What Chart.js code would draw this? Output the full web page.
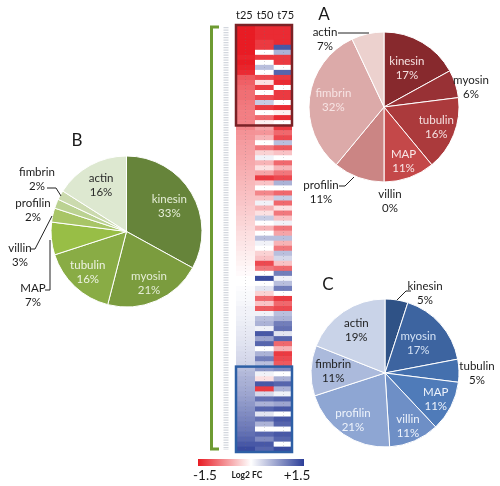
<!DOCTYPE html>
<html><head><meta charset="utf-8">
<script src="https://cdn.jsdelivr.net/npm/chart.js@4.4.0/dist/chart.umd.min.js"></script>
<style>
html,body{margin:0;padding:0;background:#fff;}
#wrap{position:relative;width:500px;height:486px;overflow:hidden;background:#fff;}
#wrap canvas{position:absolute;left:0;top:0;}
</style></head><body>
<div id="wrap">
<canvas id="heat" width="500" height="486"></canvas>
<canvas id="pieA" width="500" height="486"></canvas>
<canvas id="pieB" width="500" height="486"></canvas>
<canvas id="pieC" width="500" height="486"></canvas>
</div>
<script>
// ---------------- DATA ----------------
const categories = ['kinesin','myosin','tubulin','MAP','villin','profilin','fimbrin','actin'];
const shareA = [17, 6, 16, 11, 0, 11, 32, 7];
const shareB = [33, 21, 16, 7, 3, 2, 2, 16];
const shareC = [5, 17, 5, 11, 11, 21, 11, 19];
const panelLetters = ['A', 'B', 'C'];

const timePoints = ['t25', 't50', 't75'];
const t25 = [-1.5,-1.5,-1.5,-1.5,-1.5,-1.5,-1.45,-1.5,-1.45,-1.4,
  -1.1,-1.05,-1.0,-0.95,-0.95,-0.9,-0.88,-0.85,-0.85,-0.82,-0.8,
  -0.72,-0.7,-0.66,-0.64,-0.62,-0.6,-0.57,-0.55,-0.52,-0.5,-0.47,-0.45,-0.42,-0.4,-0.38,-0.35,-0.33,-0.3,-0.28,-0.25,-0.22,-0.2,-0.17,-0.15,-0.12,-0.1,
  -0.08,-0.05,-0.03,0,0,0.02,0.04,0.05,0.07,0.1,0.1,0.12,0.14,0.16,0.18,0.2,0.22,0.25,0.28,0.3,0.33,
  0.5,0.55,0.6,0.62,0.66,0.7,0.75,0.8,0.85,0.9,0.95,1.0,1.05,1.12,1.2,1.3,1.4];
const t50 = [-1.4,-1.4,-1.4,-1.3,-1.3,0,-1.3,0,0.5,0,
  -1.2,-0.2,-1.3,0,-1.2,0.4,-1.3,0,-1.0,-0.1,-0.6,
  -0.7,-0.5,0,-0.9,-0.3,0.1,-0.5,-0.2,-0.6,-1.3,-0.4,0,-0.8,-0.4,0.1,-0.5,-0.2,0.4,0,-0.5,0,0.5,
  0.1,0,-0.3,-0.4,-1.2,-0.9,0,1.4,0,0.2,-0.3,-1.0,-0.4,-1.1,0.1,0.5,0.6,0.1,1.3,0.7,1.2,0,
  0.6,1.0,0.5,0.8,0.1,-0.2,1.3,-1.3,0.3,1.1,0.6,1.2,0.2,1.1,0.6,0,1.2,0.9,1.3,1.2];
const t75 = [-1.4,-1.4,-1.4,-1.4,1.3,0.6,-1.3,-1.3,0,1.2,
  -1.3,-1.4,0,-1.3,-1.3,0,-1.4,-0.1,-1.4,0,-1.3,
  -1.0,-1.2,0.5,-1.1,-0.4,0,-1.0,-0.5,-0.9,-1.2,0.6,0,-1.0,0.4,-1.0,-0.2,-0.9,-0.4,0.1,-0.9,-0.6,0.5,
  -0.5,-0.9,0.5,0.3,-0.4,-1.0,1.0,0.1,0.5,1.0,0,-1.3,-1.0,-1.2,0.5,0.6,1.0,1.1,0.2,1.2,-1.0,-0.5,
  -1.3,-1.2,-1.1,0.9,0,0.6,1.2,0.6,0.1,1.2,0.7,1.3,0,1.3,1.2,0,1.3,1.2,0,1.4];
const colorbarTicks = [-1.5, 1.5];
const colorbarTitle = 'Log2 FC';

// ---------------- STYLE ----------------
const FONT = 'Lato, "Open Sans", sans-serif';
const colorsA = ['#87292d','#983135','#ab3a3c','#c44849','#c26a6a','#cb8584','#dcaaa9','#ecd1ce'];
const colorsB = ['#66843a','#7b9c3e','#89ac45','#98be46','#a8c566','#bbd292','#cbdaae','#dde8d0'];
const colorsC = ['#2f5286','#3d64a0','#4470ae','#4f7bb9','#6e8fc6','#8ea6d3','#abbadc','#c9d3e8'];

function colorFor(v){
  const t = Math.max(-1, Math.min(1, v / 1.5));
  const end = t < 0 ? [232, 28, 36] : [44, 62, 152];
  const a = Math.abs(t);
  const c = end.map(e => Math.round(255 + (e - 255) * a));
  return 'rgb(' + c[0] + ',' + c[1] + ',' + c[2] + ')';
}

// ---------------- PIE LABEL PLUGIN ----------------
const pieLabels = {
  id: 'pieLabels',
  afterDatasetsDraw(chart, args, opts) {
    const ctx = chart.ctx;
    const meta = chart.getDatasetMeta(0);
    const ds = chart.data.datasets[0];
    ctx.save();
    ctx.textAlign = 'center';
    ctx.textBaseline = 'middle';
    chart.data.labels.forEach((lab, i) => {
      let x, y;
      const ins = opts.inside[i];
      if (ins) {
        const arc = meta.data[i];
        const mid = (arc.startAngle + arc.endAngle) / 2;
        const r = arc.outerRadius * ins.f;
        x = arc.x + Math.cos(mid) * r;
        y = arc.y + Math.sin(mid) * r;
        ctx.fillStyle = ins.color;
      } else {
        const o = opts.outside[i];
        if (!o) return;
        x = o.x; y = o.y;
        ctx.fillStyle = '#1c1c1c';
        if (o.line) {
          ctx.strokeStyle = '#222';
          ctx.lineWidth = 1;
          ctx.beginPath();
          o.line.forEach((p, k) => k ? ctx.lineTo(p[0], p[1]) : ctx.moveTo(p[0], p[1]));
          ctx.stroke();
        }
      }
      ctx.font = '11.5px ' + FONT;
      ctx.fillText(lab, x, y - 7);
      ctx.fillText(ds.data[i] + '%', x, y + 7);
    });
    ctx.font = '17px ' + FONT;
    ctx.fillStyle = '#1a1a1a';
    ctx.fillText(opts.letter.text, opts.letter.x, opts.letter.y);
    ctx.restore();
  }
};

function makePie(id, values, colors, padding, labelOpts) {
  return new Chart(document.getElementById(id), {
    type: 'pie',
    data: { labels: categories, datasets: [{ data: values, backgroundColor: colors, borderColor: '#ffffff', borderWidth: 1 }] },
    options: {
      responsive: false, animation: false, events: [],
      layout: { padding: padding },
      plugins: { legend: { display: false }, tooltip: { enabled: false }, pieLabels: labelOpts }
    },
    plugins: [pieLabels]
  });
}

makePie('pieA', shareA, colorsA, {left: 308.5, right: 40.5, top: 31.5, bottom: 303.5}, {
  letter: {text: panelLetters[0], x: 324, y: 15},
  inside: {
    0: {f: 0.6, color: '#f4e0e0'}, 2: {f: 0.75, color: '#f4e0e0'},
    3: {f: 0.77, color: '#f8e8e8'}, 6: {f: 0.68, color: '#f7e4e4'}
  },
  outside: {
    1: {x: 471, y: 87}, 4: {x: 390, y: 201},
    5: {x: 321, y: 192, line: [[339,186],[345,186],[354,177]]},
    7: {x: 325, y: 39, line: [[338,33],[369,33]]}
  }
});

makePie('pieB', shareB, colorsB, {left: 50.5, right: 297.5, top: 155.5, bottom: 178.5}, {
  letter: {text: panelLetters[1], x: 77, y: 141},
  inside: {
    0: {f: 0.66, color: '#e6eed8'}, 1: {f: 0.75, color: '#e6eed8'},
    2: {f: 0.75, color: '#eef3e4'}, 7: {f: 0.7, color: '#2a2a2a'}
  },
  outside: {
    6: {x: 37, y: 179.5, line: [[47,188],[56,188],[61,196]]},
    5: {x: 33, y: 210.5},
    4: {x: 20, y: 255.5, line: [[31,249],[35,249],[52,216]]},
    3: {x: 33, y: 295.5, line: [[45,290],[50,290],[50,240]]}
  }
});

makePie('pieC', shareC, colorsC, {left: 310.5, right: 40.5, top: 298.5, bottom: 38.5}, {
  letter: {text: panelLetters[2], x: 328, y: 285},
  inside: {
    1: {f: 0.6, color: '#d3e1f4'}, 3: {f: 0.77, color: '#eef3fb'},
    4: {f: 0.78, color: '#eef3fb'}, 5: {f: 0.77, color: '#eef3fb'},
    6: {f: 0.7, color: '#1e1e1e'}, 7: {f: 0.69, color: '#1e1e1e'}
  },
  outside: {
    0: {x: 425, y: 293.5, line: [[397,300],[406,291],[411,291]]},
    2: {x: 477, y: 373}
  }
});

// ---------------- HEATMAP ----------------
const heatValues = [t25, t50, t75];
const rowIds = t25.map((_, i) => i);

const heatDecor = {
  id: 'heatDecor',
  afterDatasetsDraw(chart, args, opts) {
    const ctx = chart.ctx;
    const xs = chart.scales.x, ys = chart.scales.y;
    const area = chart.chartArea;
    const half = (ys.getPixelForValue(1) - ys.getPixelForValue(0)) / 2;
    ctx.save();
    // faint guide lines at column centres
    ctx.strokeStyle = 'rgba(110,110,120,0.28)';
    ctx.lineWidth = 1;
    ctx.setLineDash([1, 2]);
    timePoints.forEach((tp, j) => {
      const x = Math.round(xs.getPixelForValue(j + 0.5)) + 0.5;
      ctx.beginPath(); ctx.moveTo(x, area.top); ctx.lineTo(x, area.bottom); ctx.stroke();
    });
    // gene label strip
    ctx.strokeStyle = 'rgba(175,182,195,0.55)';
    ctx.lineWidth = 5;
    ctx.setLineDash([1.2, 1.3]);
    ctx.beginPath(); ctx.moveTo(226, area.top + 2); ctx.lineTo(226, area.bottom - 2); ctx.stroke();
    ctx.setLineDash([]);
    // boxes
    opts.boxes.forEach(b => {
      const top = ys.getPixelForValue(b.from) - half;
      const bot = ys.getPixelForValue(b.to) + half;
      ctx.strokeStyle = b.color;
      ctx.lineWidth = 2.5;
      ctx.strokeRect(area.left, top, area.right - area.left, bot - top);
    });
    // green bracket
    ctx.strokeStyle = '#6e9b32';
    ctx.lineWidth = 3;
    ctx.lineJoin = 'miter';
    ctx.beginPath();
    ctx.moveTo(219, area.top + 2); ctx.lineTo(211.5, area.top + 2);
    ctx.lineTo(211.5, area.bottom - 3); ctx.lineTo(219, area.bottom - 3);
    ctx.stroke();
    // column headers
    ctx.fillStyle = '#1a1a1a';
    ctx.font = '11px ' + FONT;
    ctx.textAlign = 'center'; ctx.textBaseline = 'middle';
    timePoints.forEach((tp, j) => ctx.fillText(tp, xs.getPixelForValue(j + 0.5) + 1 + (j - 1) * 2, 15));
    // colour bar
    const cb = opts.colorbar;
    const g = ctx.createLinearGradient(cb.x0, 0, cb.x1, 0);
    const lo = colorbarTicks[0], hi = colorbarTicks[1];
    for (let k = 0; k <= 10; k++) {
      g.addColorStop(k / 10, colorFor(lo + (hi - lo) * k / 10));
    }
    ctx.fillStyle = g;
    ctx.fillRect(cb.x0, cb.y0, cb.x1 - cb.x0, cb.y1 - cb.y0);
    ctx.fillStyle = '#1a1a1a';
    ctx.font = '13.5px ' + FONT;
    ctx.fillText(String(lo), cb.x0 + 7, 476);
    ctx.fillText('+' + hi, cb.x1 - 7, 476);
    ctx.font = 'bold 8.5px ' + FONT;
    ctx.fillText(colorbarTitle, (cb.x0 + cb.x1) / 2 - 4, 475);
    ctx.restore();
  }
};

new Chart(document.getElementById('heat'), {
  type: 'bar',
  data: {
    labels: rowIds,
    datasets: heatValues.map((vals, j) => ({
      label: timePoints[j],
      data: vals.map(() => [j, j + 1]),
      backgroundColor: vals.map(colorFor),
      borderWidth: 0,
      barPercentage: 1,
      categoryPercentage: 1,
      grouped: false
    }))
  },
  options: {
    indexAxis: 'y',
    responsive: false, animation: false, events: [],
    layout: { padding: { left: 236, right: 208, top: 25, bottom: 34 } },
    scales: {
      x: { type: 'linear', min: 0, max: 3, display: false },
      y: { display: false }
    },
    plugins: {
      legend: { display: false }, tooltip: { enabled: false },
      heatDecor: {
        boxes: [ {from: 0, to: 19, color: '#7a2226'}, {from: 68, to: 84, color: '#2d5fa5'} ],
        colorbar: { x0: 198, x1: 304, y0: 459, y1: 466 }
      }
    }
  },
  plugins: [heatDecor]
});
</script>
</body></html>
